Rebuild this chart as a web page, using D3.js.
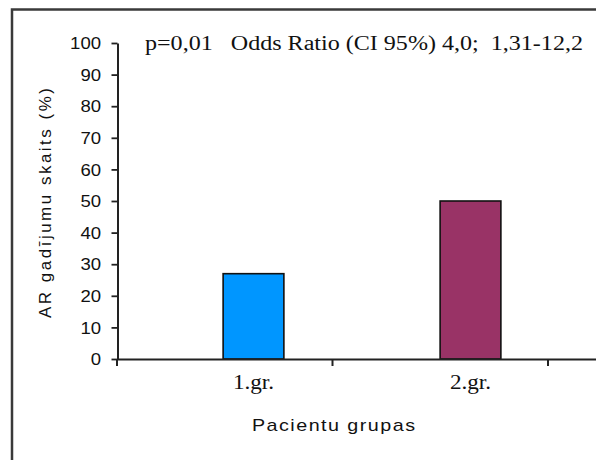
<!DOCTYPE html>
<html>
<head>
<meta charset="utf-8">
<script src="https://cdn.jsdelivr.net/npm/d3@7"></script>
<style>
  html, body { margin: 0; padding: 0; background: #fff; }
  svg { display: block; }
</style>
</head>
<body>
<svg id="chart" width="596" height="460"></svg>
<script>
// Data
const categories = ["1.gr.", "2.gr."];
const values = [27, 50];
const barColors = ["#0096ff", "#993366"];
const yTicks = [0, 10, 20, 30, 40, 50, 60, 70, 80, 90, 100];
const annotation = "p=0,01   Odds Ratio (CI 95%) 4,0;  1,31-12,2";
const yTitle = "AR gadījumu skaits (%)";
const xTitle = "Pacientu grupas";

const W = 596, H = 460;
const svg = d3.select("#chart");
const stretch = 1.16; // horizontal widening of the chart lettering

// Outer frame (runs off the right and bottom edges)
svg.append("rect")
  .attr("x", 12).attr("y", 9.5)
  .attr("width", W + 20).attr("height", H + 20)
  .attr("fill", "none").attr("stroke", "#3a3a3a").attr("stroke-width", 2.5);

const y = d3.scaleLinear().domain([0, 100]).range([359, 43]);
const x = d3.scaleBand().domain(categories).range([145, 579])
  .paddingInner(0.72).paddingOuter(0.36);
// category boundaries for the x tick marks
const xDiv = d3.scaleLinear().domain([0, categories.length]).range([117, 548]);

// Bars
svg.append("g").selectAll("rect").data(values).join("rect")
  .attr("x", (d, i) => x(categories[i]))
  .attr("y", d => y(d))
  .attr("width", x.bandwidth())
  .attr("height", d => y(0) - y(d))
  .attr("fill", (d, i) => barColors[i])
  .attr("stroke", "#111").attr("stroke-width", 1.6);

// Y axis
const yAxis = svg.append("g").attr("transform", "translate(117.5,0)")
  .call(d3.axisLeft(y).tickValues(yTicks).tickSize(6).tickSizeOuter(0));
yAxis.select(".domain").attr("stroke", "#222").attr("stroke-width", 2);
yAxis.selectAll(".tick line").attr("stroke", "#222").attr("stroke-width", 1.8);
yAxis.selectAll(".tick text")
  .attr("font-family", "Liberation Sans, Arial, sans-serif")
  .attr("font-size", 16).attr("fill", "#111")
  .attr("x", -16.5 / stretch).attr("dy", "0.36em")
  .attr("transform", `scale(${stretch},1)`);

// X axis line and division ticks
svg.append("line")
  .attr("x1", 117).attr("x2", W).attr("y1", 359.5).attr("y2", 359.5)
  .attr("stroke", "#222").attr("stroke-width", 2);
svg.append("g").selectAll("line").data(d3.range(categories.length + 1)).join("line")
  .attr("x1", d => xDiv(d)).attr("x2", d => xDiv(d))
  .attr("y1", 359.5).attr("y2", 366)
  .attr("stroke", "#222").attr("stroke-width", 2);

// Category labels
svg.append("g").selectAll("text").data(categories).join("text")
  .attr("transform", d => `translate(${x(d) + x.bandwidth() / 2},389) scale(${stretch},1)`)
  .attr("text-anchor", "middle")
  .attr("font-family", "Liberation Serif, Times New Roman, serif")
  .attr("font-size", 20).attr("fill", "#111")
  .text(d => d);

// Statistics note
svg.append("text")
  .attr("x", 145).attr("y", 50)
  .attr("font-family", "Liberation Serif, Times New Roman, serif")
  .attr("font-size", 20).attr("fill", "#111")
  .attr("textLength", 438).attr("lengthAdjust", "spacingAndGlyphs")
  .attr("xml:space", "preserve")
  .style("white-space", "pre")
  .text(annotation);

// Axis titles
svg.append("text")
  .attr("transform", `translate(333.5,431) scale(${stretch},1)`)
  .attr("text-anchor", "middle")
  .attr("font-family", "Liberation Sans, Arial, sans-serif")
  .attr("font-size", 17).attr("fill", "#111")
  .attr("textLength", 163 / stretch).attr("lengthAdjust", "spacing")
  .text(xTitle);

svg.append("text")
  .attr("transform", "translate(51,203) rotate(-90)")
  .attr("text-anchor", "middle")
  .attr("font-family", "Liberation Sans, Arial, sans-serif")
  .attr("font-size", 17).attr("fill", "#111")
  .attr("textLength", 230).attr("lengthAdjust", "spacing")
  .text(yTitle);
</script>
</body>
</html>
